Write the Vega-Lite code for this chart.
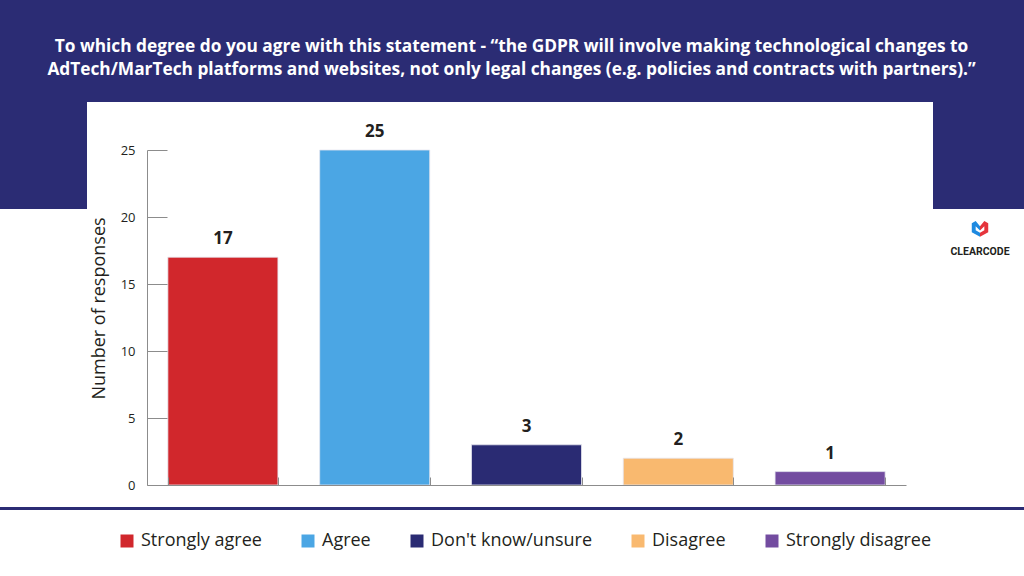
{
  "$schema": "https://vega.github.io/schema/vega-lite/v6.json",
  "width": 759,
  "height": 335,
  "autosize": {"type": "none"},
  "padding": {"left": 147, "top": 150, "right": 118, "bottom": 91},
  "background": "#ffffff",
  "config": {
    "view": {"stroke": null},
    "font": "Open Sans"
  },
  "title": {
    "text": [
      "To which degree do you agre with this statement - “the GDPR will involve making technological changes to",
      "AdTech/MarTech platforms and websites, not only legal changes (e.g. policies and contracts with partners).”"
    ],
    "color": "#ffffff",
    "font": "Open Sans",
    "fontSize": 17.3,
    "fontWeight": "bold",
    "lineHeight": 23,
    "anchor": "middle",
    "frame": "group",
    "dx": -15,
    "dy": 88,
    "offset": 10
  },
  "datasets": {
    "responses": [
      {"answer": "Strongly agree", "count": 17},
      {"answer": "Agree", "count": 25},
      {"answer": "Don't know/unsure", "count": 3},
      {"answer": "Disagree", "count": 2},
      {"answer": "Strongly disagree", "count": 1}
    ],
    "one": [{"k": 1}]
  },
  "layer": [
    {
      "data": {"name": "one"},
      "mark": {"type": "rect", "x": -147, "x2": 877, "y": -150, "y2": 59, "fill": "#2B2C74", "clip": false},
      "encoding": {}
    },
    {
      "data": {"name": "one"},
      "mark": {"type": "rect", "x": -60, "x2": 786, "y": -48, "y2": 60, "fill": "#ffffff", "clip": false},
      "encoding": {}
    },
    {
      "data": {"name": "one"},
      "mark": {"type": "rect", "x": -147, "x2": 877, "y": 357, "y2": 360, "fill": "#2B2C74", "clip": false},
      "encoding": {}
    },
    {
      "data": {"name": "responses"},
      "mark": {"type": "bar", "stroke": "#e6e6ef", "strokeWidth": 0.8},
      "encoding": {
        "x": {
          "field": "answer",
          "type": "nominal",
          "sort": null,
          "scale": {"paddingInner": 0.275, "paddingOuter": 0.1375},
          "axis": {
            "title": null,
            "labels": false,
            "tickBand": "extent",
            "tickSize": -8,
            "tickColor": "#8c8c8c",
            "domainColor": "#8c8c8c",
            "tickWidth": 1,
            "domainWidth": 1,
            "zindex": 1
          }
        },
        "y": {
          "field": "count",
          "type": "quantitative",
          "scale": {"domain": [0, 25], "nice": false},
          "axis": {
            "title": "Number of responses",
            "titleFont": "Open Sans",
            "titleFontSize": 18,
            "titleFontWeight": "normal",
            "titleColor": "#231f20",
            "titleX": -48,
            "titleY": 158,
            "titleBaseline": "middle",
            "values": [0, 5, 10, 15, 20, 25],
            "grid": false,
            "tickSize": -20,
            "tickColor": "#8c8c8c",
            "domainColor": "#8c8c8c",
            "labelPadding": 32,
            "labelFont": "Open Sans",
            "labelFontSize": 13,
            "labelColor": "#231f20",
            "zindex": 1
          }
        },
        "color": {
          "field": "answer",
          "type": "nominal",
          "sort": null,
          "scale": {
            "domain": ["Strongly agree", "Agree", "Don't know/unsure", "Disagree", "Strongly disagree"],
            "range": ["#D1272C", "#4BA6E4", "#2A2B73", "#F9B96F", "#734CA0"]
          },
          "legend": {
            "title": null,
            "orient": "none",
            "legendX": -29,
            "legendY": 382,
            "direction": "horizontal",
            "columns": 5,
            "columnPadding": 37,
            "padding": 0,
            "symbolType": "square",
            "symbolSize": 169,
            "symbolStrokeWidth": 0,
            "labelFont": "Open Sans",
            "labelFontSize": 18,
            "labelColor": "#231f20",
            "labelOffset": 5,
            "labelLimit": 300
          }
        }
      }
    },
    {
      "data": {"name": "responses"},
      "mark": {"type": "text", "font": "Open Sans", "fontSize": 17, "fontWeight": "bold", "color": "#231f20", "baseline": "alphabetic", "dy": -13},
      "encoding": {
        "x": {"field": "answer", "type": "nominal", "sort": null},
        "y": {"field": "count", "type": "quantitative"},
        "text": {"field": "count", "type": "quantitative"}
      }
    },
    {
      "data": {"name": "one"},
      "mark": {"type": "point", "x": 833, "y": 78, "size": 300, "filled": true, "strokeWidth": 0, "opacity": 1, "color": "#1F8AE0", "clip": false,
        "shape": "M0,-0.2 L-0.5,-0.8 L-0.95,-0.55 L-0.95,0.5 L0,1 L0,0.55 L-0.5,0.25 L-0.5,-0.2 L0,0.3 Z"},
      "encoding": {}
    },
    {
      "data": {"name": "one"},
      "mark": {"type": "point", "x": 833, "y": 78, "size": 300, "filled": true, "strokeWidth": 0, "opacity": 1, "color": "#E5343C", "clip": false,
        "shape": "M0,-0.2 L0.5,-0.8 L0.95,-0.55 L0.95,0.5 L0,1 L0,0.55 L0.5,0.25 L0.5,-0.2 L0,0.3 Z"},
      "encoding": {}
    },
    {
      "data": {"name": "one"},
      "mark": {"type": "text", "x": 833, "y": 105, "text": "CLEARCODE", "font": "Roboto", "fontSize": 10.5, "fontWeight": "bold", "color": "#231f20", "align": "center", "baseline": "alphabetic", "clip": false},
      "encoding": {}
    }
  ]
}
